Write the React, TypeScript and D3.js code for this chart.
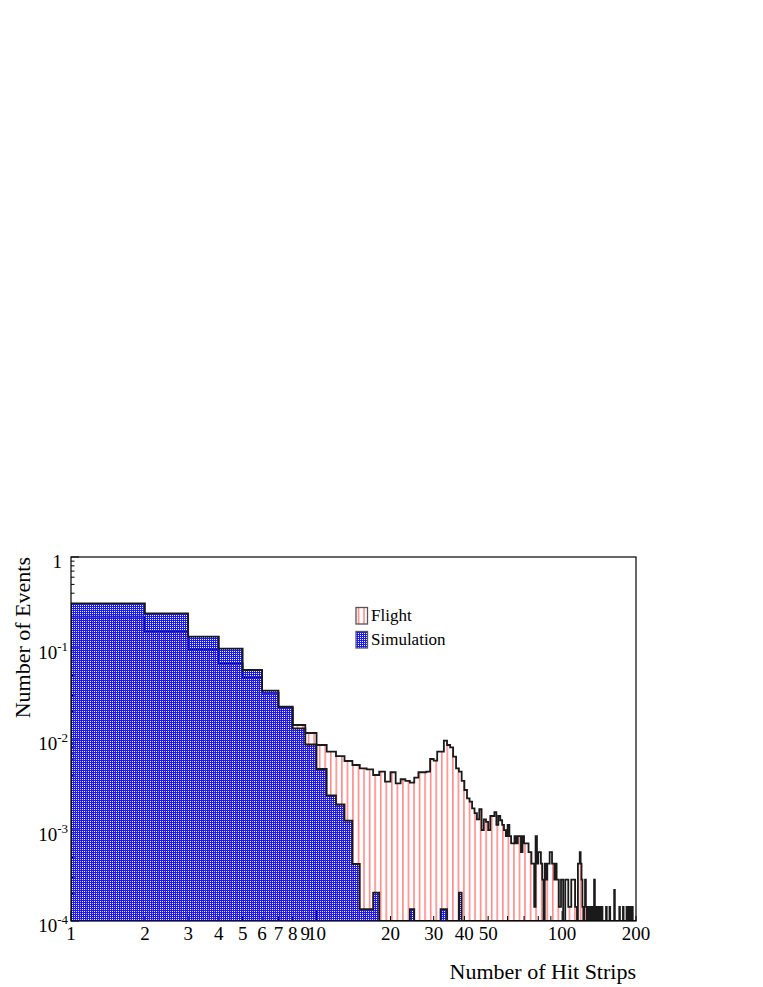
import React from 'react';
import * as d3 from 'd3';

// Histogram of number of hit strips, integer bins [n, n+1), n = 1..199
const flightValues: number[] = [
  // 1-50
  0.2208, 0.1510, 0.0967, 0.0679, 0.0472, 0.0322, 0.0219, 0.01425, 0.01164, 0.00859,
  0.00725, 0.00650, 0.00573, 0.00518, 0.00476, 0.00464, 0.00402, 0.00437, 0.00340, 0.00431,
  0.00326, 0.00361, 0.00346, 0.00331, 0.00376, 0.00431, 0.00431, 0.00437, 0.00603, 0.00578,
  0.00725, 0.00725, 0.00958, 0.00859, 0.00811, 0.00639, 0.00476, 0.00437, 0.00346, 0.00275,
  0.00223, 0.00205, 0.00173, 0.00153, 0.00131, 0.00169, 0.00100, 0.00131, 0.00123, 0.00100,
  // 51-100
  0.001425, 0.001425, 0.00157, 0.00114, 0.001425, 0.00128, 0.00114, 0.000998, 0.000855, 0.00114,
  0.000855, 0.000713, 0.000713, 0.000855, 0.000713, 0.000855, 0.000855, 0.00057, 0.000855, 0.000713,
  0.000713, 0.000713, 0.00057, 0.00057, 0.000428, 0.000428, 0.000143, 0.000855, 0.000428, 0.00057,
  0.00057, 0.000428, 0.000285, 0, 0.000428, 0.000285, 0.000428, 0.000428, 0.00057, 0.00057,
  0.000428, 0.000428, 0.000285, 0.000428, 0.000285, 0.000285, 0.000143, 0.000143, 0.000285, 0.000285,
  // 101-150
  0, 0, 0.000285, 0.000285, 0.000285, 0.000143, 0.000143, 0.000143, 0.000285, 0.000285,
  0.000285, 0.000285, 0.000143, 0.000143, 0, 0.000428, 0.000428, 0.00057, 0.000428, 0.000285,
  0.000143, 0, 0.000143, 0.000285, 0.000143, 0, 0.000143, 0, 0.000143, 0,
  0, 0.000143, 0, 0.000143, 0.000285, 0, 0.000143, 0, 0.000143, 0.000143,
  0, 0, 0.000143, 0, 0.000143, 0, 0, 0, 0, 0,
  // 151-199
  0.000143, 0, 0, 0, 0, 0.000143, 0, 0, 0, 0,
  0, 0, 0.000219, 0, 0, 0, 0, 0, 0, 0,
  0.000143, 0, 0, 0, 0, 0, 0.000143, 0, 0, 0,
  0, 0, 0.000143, 0.000143, 0, 0, 0, 0.000143, 0, 0.000143,
  0, 0, 0.000143, 0, 0, 0, 0, 0, 0,
];

const simulationValues: number[] = [
  // 1-40 (later bins empty)
  0.310, 0.2406, 0.1331, 0.0982, 0.0573, 0.0340, 0.02264, 0.01311, 0.00870, 0.004681,
  0.002393, 0.001906, 0.001265, 0.000423, 0.000135, 0.000135, 0.000205, 0, 0, 0,
  0, 0, 0, 0.000135, 0, 0, 0, 0, 0, 0,
  0, 0.000135, 0.000135, 0, 0, 0, 0, 0.000205, 0, 0,
];

const xTickLabels = [1, 2, 3, 4, 5, 6, 7, 8, 9, 10, 20, 30, 40, 50, 100, 200];
const yTickExponents = [0, -1, -2, -3, -4];
const legendLabels = ['Flight', 'Simulation'];
const xTitle = 'Number of Hit Strips';
const yTitle = 'Number of Events';

const FONT = '"Liberation Serif", "Times New Roman", serif';
const L = 71, R = 636, T = 557, B = 921;
const NBINS = 199;

export default function App() {
  const x = d3.scaleLog().domain([1, 200]).range([L, R]);
  const y = d3.scaleLog().domain([1e-4, 1]).range([B, T]);
  const yv = (v: number) => (v > 1e-4 ? y(v) : B);

  const pts = (vals: number[]) => {
    const arr: { e: number; v: number }[] = [];
    for (let i = 0; i < NBINS; i++) arr.push({ e: i + 1, v: vals[i] ?? 0 });
    arr.push({ e: 200, v: vals[NBINS - 1] ?? 0 });
    return arr;
  };

  const area = d3
    .area<{ e: number; v: number }>()
    .x((d) => x(d.e))
    .y0(B)
    .y1((d) => yv(d.v))
    .curve(d3.curveStepAfter);

  const line = d3
    .line<{ e: number; v: number }>()
    .x((d) => x(d.e))
    .y((d) => yv(d.v))
    .curve(d3.curveStepAfter);

  const outline = (vals: number[]) =>
    `M${x(1)},${B}` + (line(pts(vals)) as string).replace(/^M/, 'L') + `L${x(200)},${B}`;

  const yMinor: number[] = [];
  for (let e = -4; e < 0; e++) for (let k = 2; k <= 9; k++) yMinor.push(k * Math.pow(10, e));
  const xMinor: number[] = [];
  for (let e = 0; e < 3; e++)
    for (let k = 2; k <= 9; k++) {
      const v = k * Math.pow(10, e);
      if (v <= 200) xMinor.push(v);
    }
  const xMajor = [1, 10, 100];

  return (
    <svg
      width={763}
      height={987}
      style={{ position: 'absolute', left: 0, top: 0, background: '#fff' }}
    >
      <defs>
        <clipPath id="plotClip">
          <rect x={L} y={T} width={R - L} height={B - T} />
        </clipPath>
        <pattern id="stripes" patternUnits="userSpaceOnUse" x={2.5} y={0} width={5.55} height={10}>
          <rect x={0} y={0} width={1.6} height={10} fill="#ff8a8a" />
        </pattern>
        <pattern id="dots" patternUnits="userSpaceOnUse" x={0} y={0} width={2} height={2}>
          <rect x={0} y={0} width={2} height={1} fill="#1818ff" shapeRendering="crispEdges" />
          <rect x={1} y={1} width={1} height={1} fill="#1818ff" shapeRendering="crispEdges" />
        </pattern>
      </defs>

      <g clipPath="url(#plotClip)">
        <path d={area(pts(flightValues)) as string} fill="url(#stripes)" />
        <path d={outline(flightValues)} fill="none" stroke="#1a1a1a" strokeWidth={1.8} />
      </g>

      {/* ticks */}
      <g stroke="#000" strokeWidth={1}>
        {yMinor.map((v, i) => (
          <line key={'ym' + i} x1={L} x2={L + 3.5} y1={y(v)} y2={y(v)} />
        ))}
        {yTickExponents.map((e) => (
          <line key={'yM' + e} x1={L} x2={L + 8} y1={y(Math.pow(10, e))} y2={y(Math.pow(10, e))} />
        ))}
        {xMinor.map((v, i) => (
          <line key={'xm' + i} x1={x(v)} x2={x(v)} y1={B} y2={B - 5} />
        ))}
        {xMajor.map((v) => (
          <line key={'xM' + v} x1={x(v)} x2={x(v)} y1={B} y2={B - 10} />
        ))}
      </g>

      <g clipPath="url(#plotClip)">
        <path d={area(pts(simulationValues)) as string} fill="url(#dots)" />
        <path d={outline(simulationValues)} fill="none" stroke="#1a1a1a" strokeWidth={1.8} />
      </g>

      <rect x={L} y={T} width={R - L} height={B - T} fill="none" stroke="#000" strokeWidth={1.2} />

      {/* y tick labels */}
      {yTickExponents.map((e) =>
        e === 0 ? (
          <text key={'yl' + e} x={62} y={y(1) + 11} fontFamily={FONT} fontSize={19} textAnchor="end">
            1
          </text>
        ) : (
          <text key={'yl' + e} x={68} y={y(Math.pow(10, e)) + 11} fontFamily={FONT} fontSize={19} textAnchor="end">
            10
            <tspan dy={-8} fontSize={13}>
              {String(e)}
            </tspan>
          </text>
        )
      )}

      {/* x tick labels */}
      {xTickLabels.map((v) => (
        <text key={'xl' + v} x={x(v)} y={940} fontFamily={FONT} fontSize={19} textAnchor="middle">
          {String(v)}
        </text>
      ))}

      {/* axis titles */}
      <text x={R} y={979} fontFamily={FONT} fontSize={22} textAnchor="end">
        {xTitle}
      </text>
      <text
        transform={`translate(30,${T}) rotate(-90)`}
        fontFamily={FONT}
        fontSize={22}
        textAnchor="end"
      >
        {yTitle}
      </text>

      {/* legend */}
      <g>
        <rect x={356} y={607.5} width={11.5} height={16.5} fill="url(#stripes)" stroke="#555" strokeWidth={1.3} />
        <text x={371} y={621} fontFamily={FONT} fontSize={17}>
          {legendLabels[0]}
        </text>
        <rect x={356} y={631.5} width={11.5} height={16.5} fill="url(#dots)" stroke="#555" strokeWidth={1.3} />
        <text x={371} y={645} fontFamily={FONT} fontSize={17}>
          {legendLabels[1]}
        </text>
      </g>
    </svg>
  );
}
